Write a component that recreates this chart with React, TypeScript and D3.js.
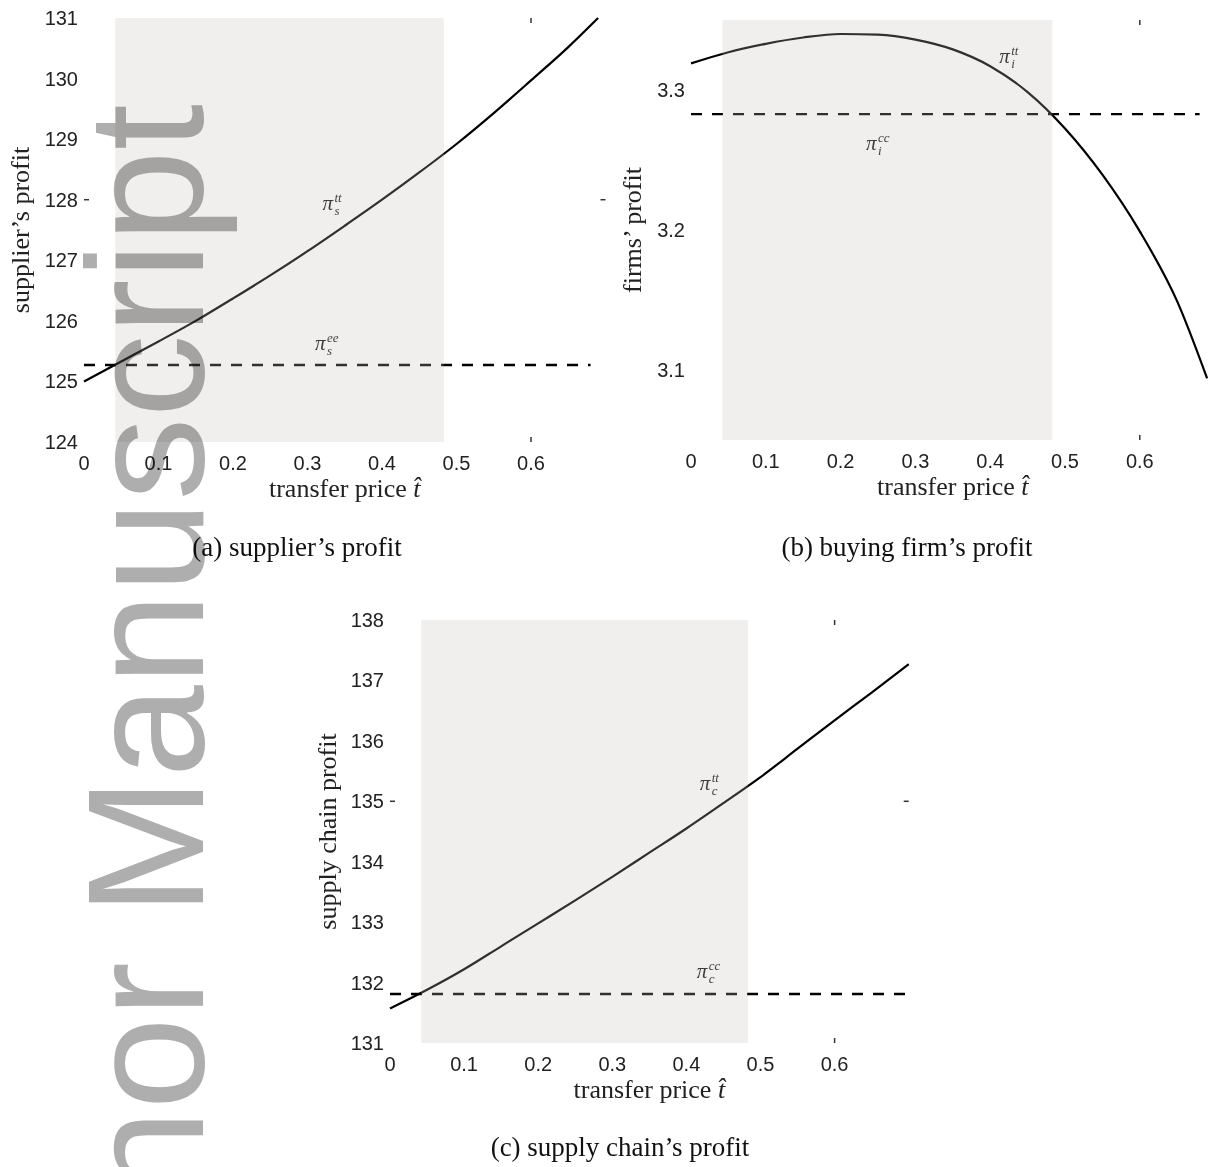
import React from "react";
import * as d3 from "d3";

// ---------- data ----------
const tA = [0, 0.05, 0.1, 0.15, 0.2, 0.25, 0.3, 0.35, 0.4, 0.45, 0.5, 0.55, 0.6, 0.65, 0.69];
const supplierProfit = [125.0, 125.33, 125.66, 126.0, 126.37, 126.75, 127.15, 127.57, 128.0, 128.45, 128.92, 129.43, 129.97, 130.52, 131.0];

const tB = [0, 0.05, 0.1, 0.15, 0.2, 0.25, 0.3, 0.35, 0.4, 0.45, 0.5, 0.55, 0.6, 0.65, 0.69];
const firmProfit = [3.319, 3.327, 3.333, 3.3375, 3.34, 3.3395, 3.336, 3.329, 3.317, 3.2985, 3.2725, 3.2395, 3.199, 3.149, 3.094];

const tC = [0, 0.05, 0.1, 0.15, 0.2, 0.25, 0.3, 0.35, 0.4, 0.45, 0.5, 0.55, 0.6, 0.65, 0.7];
const chainProfit = [131.57, 131.88, 132.22, 132.6, 132.98, 133.36, 133.75, 134.15, 134.55, 134.97, 135.4, 135.87, 136.34, 136.8, 137.27];

// centralized (dashed) benchmark levels and the t-span they are drawn over
const ceSupplier = 125.27;
const ceFirm = 3.2828;
const ceChain = 131.81;
const dashSpanA = [0, 0.68];
const dashSpanB = [0, 0.68];
const dashSpanC = [0, 0.7];

// region where both parties are better off
const winWinRegion = [0.042, 0.483];

const xTicks = [0, 0.1, 0.2, 0.3, 0.4, 0.5, 0.6];
const yTicksA = [124, 125, 126, 127, 128, 129, 130, 131];
const yTicksB = [3.1, 3.2, 3.3];
const yTicksC = [131, 132, 133, 134, 135, 136, 137, 138];

// the few box tick marks that survive in the scan
const boxTickXA = [0.6];
const boxTickYA = [128];
const boxTickXB = [0.6];
const boxTickYB: number[] = [];
const boxTickXC = [0.6];
const boxTickYC = [135];

// annotation anchors (data units): [t, value, subscript, superscript]
const annotA: [number, number, string, string][] = [
  [0.32, 127.83, "s", "tt"],
  [0.31, 125.52, "s", "ee"],
];
const annotB: [number, number, string, string][] = [
  [0.412, 3.319, "i", "tt"],
  [0.234, 3.257, "i", "cc"],
];
const annotC: [number, number, string, string][] = [
  [0.418, 135.19, "c", "tt"],
  [0.414, 132.08, "c", "cc"],
];

const SERIF = "'Liberation Serif', 'Times New Roman', serif";
const SANS = "'Liberation Sans', Arial, Helvetica, sans-serif";

type PanelProps = {
  xRange: [number, number];
  yRange: [number, number];
  yDomain: [number, number];
  ts: number[];
  values: number[];
  ce: number;
  dashSpan: number[];
  yTicks: number[];
  yFmt: (v: number) => string;
  boxX: number[];
  boxY: number[];
  annots: [number, number, string, string][];
  yLabel: string;
  yLabelX: number;
  caption: string;
  captionX: number;
  captionY: number;
};

function Panel(p: PanelProps) {
  const x = d3.scaleLinear().domain([0, 0.7]).range(p.xRange);
  const y = d3.scaleLinear().domain(p.yDomain).range(p.yRange);
  const pts = p.ts.map((t, i) => [t, p.values[i]] as [number, number]);
  const line = d3
    .line<[number, number]>()
    .x((d) => x(d[0]))
    .y((d) => y(d[1]))
    .curve(d3.curveMonotoneX);
  const [x0, x1] = p.xRange;
  const [yb, yt] = p.yRange;
  const xFmt = d3.format("~g");
  const midX = x(0.35);
  const midY = (yb + yt) / 2;
  const tick = 5;
  return (
    <g>
      {/* curves */}
      <path d={line(pts) || ""} fill="none" stroke="#000" strokeWidth={2.2} />
      <line
        x1={x(p.dashSpan[0])}
        x2={x(p.dashSpan[1])}
        y1={y(p.ce)}
        y2={y(p.ce)}
        stroke="#000"
        strokeWidth={2.4}
        strokeDasharray="11,10"
      />
      {/* annotations */}
      {p.annots.map(([t, v, sub, sup], i) => (
        <g key={i} transform={`translate(${x(t)},${y(v)})`} fontFamily={SERIF} fontStyle="italic" fill="#111">
          <text x={0} y={0} fontSize={21}>π</text>
          <text x={12} y={-8} fontSize={13}>{sup}</text>
          <text x={12} y={5} fontSize={13}>{sub}</text>
        </g>
      ))}
      {/* shaded region (semi-transparent overlay) */}
      <rect
        x={x(winWinRegion[0])}
        width={x(winWinRegion[1]) - x(winWinRegion[0])}
        y={yt}
        height={yb - yt}
        fill="rgb(195,191,183)"
        fillOpacity={0.25}
      />
      {/* box tick marks */}
      {p.boxX.map((t) => (
        <g key={"bx" + t} stroke="#333" strokeWidth={1.5}>
          <line x1={x(t)} x2={x(t)} y1={yt} y2={yt + tick} />
          <line x1={x(t)} x2={x(t)} y1={yb} y2={yb - tick} />
        </g>
      ))}
      {p.boxY.map((v) => (
        <g key={"by" + v} stroke="#333" strokeWidth={1.5}>
          <line x1={x0} x2={x0 + tick} y1={y(v)} y2={y(v)} />
          <line x1={x1} x2={x1 - tick} y1={y(v)} y2={y(v)} />
        </g>
      ))}
      {/* tick labels */}
      {xTicks.map((t) => (
        <text key={"xt" + t} x={x(t)} y={yb + 28} textAnchor="middle" fontFamily={SANS} fontSize={20} fill="#222">
          {xFmt(t)}
        </text>
      ))}
      {p.yTicks.map((v) => (
        <text key={"yt" + v} x={x0 - 6} y={y(v)} dy="0.35em" textAnchor="end" fontFamily={SANS} fontSize={20} fill="#222">
          {p.yFmt(v)}
        </text>
      ))}
      {/* axis labels */}
      <text x={midX} y={yb + 55} textAnchor="middle" fontFamily={SERIF} fontSize={26} fill="#222">
        transfer price <tspan fontStyle="italic">t̂</tspan>
      </text>
      <text
        transform={`translate(${p.yLabelX},${midY}) rotate(-90)`}
        textAnchor="middle"
        fontFamily={SERIF}
        fontSize={26}
        fill="#222"
      >
        {p.yLabel}
      </text>
      <text x={p.captionX} y={p.captionY} textAnchor="middle" fontFamily={SERIF} fontSize={27} fill="#111">
        {p.caption}
      </text>
    </g>
  );
}

export default function App() {
  return (
    <div style={{ position: "absolute", left: 0, top: 0 }}>
      <svg width={1214} height={1167} viewBox="0 0 1214 1167" style={{ display: "block", background: "#fff" }}>
        <Panel
          xRange={[84, 605.5]}
          yRange={[442, 18]}
          yDomain={[124, 131]}
          ts={tA}
          values={supplierProfit}
          ce={ceSupplier}
          dashSpan={dashSpanA}
          yTicks={yTicksA}
          yFmt={d3.format("d")}
          boxX={boxTickXA}
          boxY={boxTickYA}
          annots={annotA}
          yLabel="supplier’s profit"
          yLabelX={29}
          caption="(a) supplier’s profit"
          captionX={297}
          captionY={556}
        />
        <Panel
          xRange={[691, 1214.6]}
          yRange={[440, 20]}
          yDomain={[3.05, 3.35]}
          ts={tB}
          values={firmProfit}
          ce={ceFirm}
          dashSpan={dashSpanB}
          yTicks={yTicksB}
          yFmt={d3.format(".1f")}
          boxX={boxTickXB}
          boxY={boxTickYB}
          annots={annotB}
          yLabel="firms’ profit"
          yLabelX={641}
          caption="(b) buying firm’s profit"
          captionX={907}
          captionY={556}
        />
        <Panel
          xRange={[390, 908.7]}
          yRange={[1043, 620]}
          yDomain={[131, 138]}
          ts={tC}
          values={chainProfit}
          ce={ceChain}
          dashSpan={dashSpanC}
          yTicks={yTicksC}
          yFmt={d3.format("d")}
          boxX={boxTickXC}
          boxY={boxTickYC}
          annots={annotC}
          yLabel="supply chain profit"
          yLabelX={336}
          caption="(c) supply chain’s profit"
          captionX={620}
          captionY={1156}
        />
        {/* scan watermark */}
        <text
          transform="translate(203,104) rotate(-90)"
          textAnchor="end"
          fontFamily={SANS}
          fontSize={166}
          fill="#aeaeae"
          style={{ mixBlendMode: "multiply" }}
        >
          Author Manuscript
        </text>
      </svg>
    </div>
  );
}
